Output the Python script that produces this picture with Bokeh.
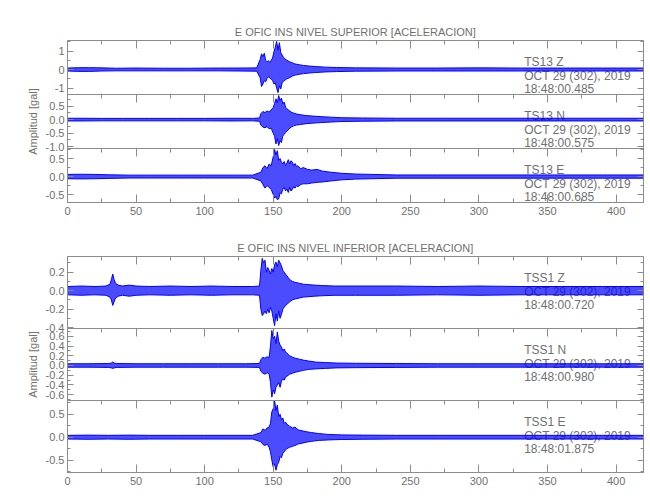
from bokeh.plotting import figure
from bokeh.models import Range1d, LinearAxis, FixedTicker, SingleIntervalTicker, Title, CustomJSTickFormatter
from bokeh.layouts import column
from bokeh.embed import file_html
from bokeh.resources import INLINE
from bokeh.core.properties import value

# ---------------- data ----------------
titles = ["E OFIC INS NIVEL SUPERIOR [ACELERACION]", "E OFIC INS NIVEL INFERIOR [ACELERACION]"]
y_label = "Amplitud [gal]"
stations = ["TS13   Z", "TS13   N", "TS13   E", "TSS1   Z", "TSS1   N", "TSS1   E"]
date_text = "OCT 29 (302), 2019"
start_times = ["18:48:00.485", "18:48:00.575", "18:48:00.685",
               "18:48:00.720", "18:48:00.980", "18:48:01.875"]

# envelope of each trace (seconds, upper gal, lower gal)
z1_t = [0, 8, 16, 25, 35, 50, 70, 90, 110, 125, 138,
        140.5, 141.5, 142.5, 143.5, 144.5, 145.5, 146.5, 147.5, 148.5, 149.5,
        150.5, 151.5, 152.5, 153.5, 154.5, 155.5, 156.5, 157.5, 158.5,
        160, 162, 164, 166, 169, 172, 176, 181, 188, 196, 210,
        240, 270, 300, 330, 360, 390, 420]
z1_up = [0.08, 0.10, 0.10, 0.09, 0.07, 0.08, 0.07, 0.07, 0.08, 0.08, 0.09,
         0.55, 0.85, 0.70, 0.88, 0.50, 0.42, 0.48, 0.38, 0.50, 0.62,
         0.95, 1.20, 1.52, 1.05, 1.45, 0.92, 0.78, 0.66, 0.58,
         0.50, 0.42, 0.36, 0.30, 0.26, 0.22, 0.19, 0.16, 0.13, 0.11, 0.09,
         0.08, 0.08, 0.09, 0.08, 0.08, 0.08, 0.08]
z1_lo = [-0.08, -0.10, -0.10, -0.08, -0.07, -0.07, -0.07, -0.07, -0.07, -0.08, -0.09,
         -0.45, -0.92, -0.78, -0.60, -0.66, -0.48, -0.40, -0.46, -0.52, -0.58,
         -0.78, -0.72, -1.00, -1.25, -0.88, -1.05, -0.72, -0.64, -0.58,
         -0.50, -0.44, -0.35, -0.30, -0.26, -0.22, -0.19, -0.16, -0.13, -0.11, -0.09,
         -0.08, -0.08, -0.08, -0.08, -0.08, -0.08, -0.08]

n1_t = [0, 10, 25, 40, 60, 80, 100, 120, 135, 140,
        141, 142.5, 144, 145.5, 147, 148.5,
        150, 151, 152, 153, 154, 155, 156, 157, 158, 159, 160,
        161.5, 163, 165, 167, 170, 174, 179, 185, 192, 200, 215,
        240, 270, 300, 330, 360, 390, 420]
n1_up = [0.05, 0.05, 0.045, 0.045, 0.045, 0.045, 0.045, 0.05, 0.045, 0.06,
         0.22, 0.30, 0.26, 0.32, 0.28, 0.36,
         0.45, 0.60, 0.77, 0.62, 0.89, 0.70, 0.80, 0.58, 0.65, 0.46, 0.40,
         0.34, 0.28, 0.24, 0.21, 0.18, 0.15, 0.13, 0.11, 0.09, 0.07, 0.06,
         0.05, 0.05, 0.05, 0.05, 0.05, 0.05, 0.05]
n1_lo = [-0.05, -0.05, -0.045, -0.045, -0.045, -0.045, -0.045, -0.05, -0.045, -0.06,
         -0.20, -0.28, -0.30, -0.26, -0.34, -0.32,
         -0.50, -0.62, -0.90, -0.70, -0.96, -0.78, -0.85, -0.60, -0.55, -0.48, -0.42,
         -0.35, -0.28, -0.23, -0.20, -0.18, -0.15, -0.13, -0.11, -0.09, -0.07, -0.06,
         -0.05, -0.05, -0.05, -0.05, -0.05, -0.05, -0.05]

e1_t = [0, 10, 20, 30, 45, 60, 80, 100, 120, 135,
        141, 142.5, 144, 145.5, 147, 148.5,
        150, 151, 152, 153, 154, 155, 156, 157, 158, 159, 160, 161, 162, 163, 164, 165, 166, 167, 168,
        170, 172, 175, 178, 182, 186, 190, 195, 200, 210,
        240, 270, 300, 330, 360, 390, 420]
e1_up = [0.06, 0.065, 0.06, 0.05, 0.04, 0.04, 0.04, 0.04, 0.04, 0.04,
         0.12, 0.25, 0.30, 0.22, 0.35, 0.30,
         0.55, 0.75, 0.60, 0.72, 0.45, 0.50, 0.40, 0.35, 0.42, 0.30, 0.38, 0.47, 0.35, 0.44, 0.40, 0.30, 0.36, 0.28, 0.30,
         0.22, 0.25, 0.20, 0.18, 0.20, 0.15, 0.13, 0.11, 0.09, 0.07,
         0.045, 0.045, 0.045, 0.045, 0.045, 0.045, 0.045]
e1_lo = [-0.06, -0.065, -0.06, -0.05, -0.04, -0.04, -0.04, -0.04, -0.04, -0.04,
         -0.12, -0.22, -0.32, -0.25, -0.30, -0.35,
         -0.50, -0.60, -0.55, -0.64, -0.62, -0.45, -0.48, -0.35, -0.30, -0.40, -0.35, -0.44, -0.30, -0.40, -0.35, -0.28, -0.32, -0.25, -0.28,
         -0.22, -0.20, -0.20, -0.18, -0.16, -0.15, -0.13, -0.11, -0.09, -0.07,
         -0.045, -0.045, -0.045, -0.045, -0.045, -0.045, -0.045]

z2_t = [0, 10, 20, 28, 31, 32, 33, 34, 35, 37, 40, 45, 50, 60, 75, 90, 105, 120, 135, 140,
        141, 142, 143, 144, 145, 146, 147, 148, 149, 150, 151, 152, 153, 154, 155, 156, 157, 158, 159, 160,
        162, 164, 166, 169, 172, 176, 180, 186, 195, 210,
        240, 270, 300, 330, 360, 390, 420]
z2_up = [0.045, 0.05, 0.045, 0.05, 0.07, 0.12, 0.18, 0.12, 0.08, 0.06, 0.05, 0.06, 0.05, 0.045, 0.05, 0.045, 0.05, 0.045, 0.045, 0.05,
         0.22, 0.35, 0.30, 0.33, 0.20, 0.25, 0.22, 0.18, 0.24, 0.20, 0.28, 0.31, 0.26, 0.33, 0.30, 0.27, 0.22, 0.20, 0.18, 0.16,
         0.12, 0.10, 0.09, 0.08, 0.07, 0.065, 0.06, 0.055, 0.05, 0.05,
         0.05, 0.045, 0.05, 0.045, 0.045, 0.045, 0.045]
z2_lo = [-0.045, -0.05, -0.045, -0.05, -0.07, -0.10, -0.16, -0.12, -0.08, -0.06, -0.05, -0.06, -0.05, -0.045, -0.05, -0.045, -0.05, -0.045, -0.045, -0.05,
         -0.20, -0.27, -0.25, -0.22, -0.25, -0.20, -0.24, -0.18, -0.22, -0.30, -0.38, -0.25, -0.33, -0.22, -0.30, -0.26, -0.20, -0.18, -0.16, -0.15,
         -0.12, -0.10, -0.09, -0.08, -0.07, -0.065, -0.06, -0.055, -0.05, -0.05,
         -0.05, -0.045, -0.05, -0.045, -0.045, -0.045, -0.045]

n2_t = [0, 15, 30, 32, 33, 34, 36, 50, 70, 90, 110, 130, 140,
        141, 142.5, 144, 145.5, 147,
        148, 149, 150, 151, 152, 153, 154, 155, 156, 157, 158, 159, 160,
        162, 164, 166, 169, 172, 176, 181, 188, 196, 210,
        240, 270, 300, 330, 360, 390, 420]
n2_up = [0.035, 0.035, 0.04, 0.05, 0.07, 0.05, 0.04, 0.035, 0.035, 0.035, 0.035, 0.035, 0.04,
         0.12, 0.17, 0.15, 0.18, 0.16,
         0.40, 0.72, 0.55, 0.60, 0.45, 0.69, 0.50, 0.42, 0.38, 0.30, 0.34, 0.28, 0.25,
         0.20, 0.17, 0.15, 0.13, 0.11, 0.09, 0.07, 0.06, 0.05, 0.045,
         0.04, 0.035, 0.035, 0.035, 0.035, 0.035, 0.035]
n2_lo = [-0.035, -0.035, -0.04, -0.05, -0.06, -0.05, -0.04, -0.035, -0.035, -0.035, -0.035, -0.035, -0.04,
         -0.12, -0.16, -0.18, -0.15, -0.17,
         -0.35, -0.65, -0.50, -0.58, -0.45, -0.40, -0.35, -0.45, -0.32, -0.28, -0.30, -0.25, -0.22,
         -0.18, -0.16, -0.14, -0.12, -0.10, -0.08, -0.07, -0.06, -0.05, -0.045,
         -0.04, -0.035, -0.035, -0.035, -0.035, -0.035, -0.035]

e2_t = [0, 15, 30, 45, 60, 80, 100, 120, 135,
        141, 142.5, 144, 145.5, 147,
        148, 149, 150, 151, 152, 153, 154, 155, 156, 157, 158, 159, 160,
        162, 164, 166, 168, 171, 174, 178, 183, 190, 200, 215,
        240, 270, 300, 330, 360, 390, 420]
e2_up = [0.04, 0.045, 0.04, 0.045, 0.04, 0.04, 0.04, 0.04, 0.04,
         0.10, 0.18, 0.15, 0.20, 0.22,
         0.30, 0.55, 0.62, 0.80, 0.58, 0.70, 0.45, 0.50, 0.38, 0.42, 0.30, 0.33, 0.28,
         0.24, 0.20, 0.22, 0.16, 0.14, 0.12, 0.10, 0.08, 0.06, 0.05, 0.045,
         0.04, 0.04, 0.04, 0.04, 0.04, 0.04, 0.04]
e2_lo = [-0.04, -0.045, -0.04, -0.045, -0.04, -0.04, -0.04, -0.04, -0.04,
         -0.10, -0.16, -0.18, -0.15, -0.22,
         -0.32, -0.50, -0.65, -0.58, -0.72, -0.60, -0.55, -0.42, -0.45, -0.35, -0.32, -0.28, -0.25,
         -0.22, -0.20, -0.18, -0.15, -0.13, -0.11, -0.09, -0.07, -0.06, -0.05, -0.045,
         -0.04, -0.04, -0.04, -0.04, -0.04, -0.04, -0.04]

traces = [(z1_t, z1_up, z1_lo), (n1_t, n1_up, n1_lo), (e1_t, e1_up, e1_lo),
          (z2_t, z2_up, z2_lo), (n2_t, n2_up, n2_lo), (e2_t, e2_up, e2_lo)]

# axis tick values
x_tick_interval = 50
y_major = [[-1, 0, 1],
           [-1.0, -0.5, 0.0, 0.5],
           [-0.5, 0.0, 0.5],
           [-0.4, -0.2, 0.0, 0.2],
           [-0.6, -0.4, -0.2, 0.0, 0.2, 0.4, 0.6],
           [-0.5, 0.0, 0.5]]
y_minor = [[-1.0, -0.5, 0.0, 0.5, 1.0, 1.5],
           [-1.0, -0.75, -0.5, -0.25, 0.0, 0.25, 0.5, 0.75],
           [-0.75, -0.5, -0.25, 0.0, 0.25, 0.5, 0.75],
           [-0.4, -0.3, -0.2, -0.1, 0.0, 0.1, 0.2, 0.3],
           [-0.7, -0.6, -0.5, -0.4, -0.3, -0.2, -0.1, 0.0, 0.1, 0.2, 0.3, 0.4, 0.5, 0.6, 0.7],
           [-0.75, -0.5, -0.25, 0.0, 0.25, 0.5, 0.75]]

# ---------------- layout / style ----------------
FONT = "Liberation Sans"
AX = "#8c8c8c"
TX = "#707070"
BLUE = "#0000ff"
X_END = 420
y_lims = [(-1.35, 1.57), (-1.07, 0.93), (-0.72, 0.78),
          (-0.41, 0.37), (-0.72, 0.76), (-0.77, 0.80)]
panel_h = [54, 72]          # frame height of one panel, per group
group_top = [40, 26]
group_bottom = [28, 23]
text_rel = [21, 35, 48]     # px below panel top
LEFT = 67
RIGHT = 5
W = LEFT + 576 + RIGHT


def style_axis(ax):
    ax.axis_line_color = AX
    ax.major_tick_line_color = AX
    ax.minor_tick_line_color = AX
    ax.major_label_text_color = TX
    ax.major_label_text_font = FONT
    ax.major_label_text_font_size = "11px"
    ax.major_tick_out = 0
    ax.minor_tick_out = 0


def hidden_labels(ax):
    ax.formatter = CustomJSTickFormatter(code="return '';")
    ax.major_label_standoff = 0


def fmt(v, ticks):
    if all(float(t).is_integer() for t in ticks):
        return "%d" % v
    return "%.1f" % v


figs = []
for g in range(2):
    ph = panel_h[g]
    # the group's frame is split in three panels; the default y range counts panels
    p = figure(width=W, height=group_top[g] + 3 * ph + group_bottom[g],
               x_range=Range1d(0, X_END), y_range=Range1d(0, 3),
               output_backend="svg", toolbar_location=None,
               x_axis_location=None, y_axis_location=None,
               min_border_left=LEFT, min_border_right=RIGHT,
               min_border_top=group_top[g], min_border_bottom=group_bottom[g])
    p.grid.visible = False
    p.outline_line_color = AX
    p.background_fill_color = "white"
    p.border_fill_color = "white"
    p.title = Title(text=titles[g], align="center", text_font=FONT,
                    text_font_size="11px", text_font_style="normal",
                    text_color=TX, standoff=6)

    left_major, left_minor, overrides = [], [], {}
    for k in range(3):
        i = 3 * g + k
        ylo, yhi = y_lims[i]
        span = yhi - ylo
        name = "p%d" % k
        base = 2 - k
        p.extra_y_ranges[name] = Range1d(ylo - base * span, yhi + k * span)

        for v in y_major[i]:
            pos = round(base + (v - ylo) / span, 6)
            left_major.append(pos)
            overrides[pos] = fmt(v, y_major[i])
        for v in y_minor[i]:
            left_minor.append(round(base + (v - ylo) / span, 6))

        right = LinearAxis(ticker=FixedTicker(ticks=y_major[i], minor_ticks=y_minor[i]),
                           y_range_name=name, fixed_location=X_END, bounds=(ylo, yhi))
        style_axis(right)
        hidden_labels(right)
        right.major_tick_in = 6
        right.minor_tick_in = 3
        p.add_layout(right, "right")

        top = LinearAxis(ticker=SingleIntervalTicker(interval=x_tick_interval, num_minor_ticks=2),
                         y_range_name=name, fixed_location=yhi)
        style_axis(top)
        hidden_labels(top)
        top.major_tick_in = 8
        top.minor_tick_in = 4
        p.add_layout(top, "above")

        # station annotation (drawn under the trace)
        ppu = ph / span
        ys = [yhi - r / ppu for r in text_rel]
        p.text(x=[333, 333, 333], y=ys, text=[stations[i], date_text, start_times[i]],
               text_font=value(FONT), text_font_size="12px", text_color=TX,
               text_baseline="middle", text_align="left", y_range_name=name)

        t, up, lo = traces[i]
        p.varea(x=t, y1=lo, y2=up, fill_color=BLUE, fill_alpha=0.7, y_range_name=name)
        p.line(t, up, line_color=BLUE, line_width=1, y_range_name=name)
        p.line(t, lo, line_color=BLUE, line_width=1, y_range_name=name)

    left = LinearAxis(ticker=FixedTicker(ticks=left_major, minor_ticks=left_minor),
                      major_label_overrides=overrides)
    style_axis(left)
    left.major_tick_in = 6
    left.minor_tick_in = 3
    left.major_label_standoff = 3
    left.axis_label = y_label
    left.axis_label_text_font = FONT
    left.axis_label_text_font_size = "11px"
    left.axis_label_text_font_style = "normal"
    left.axis_label_text_color = TX
    left.axis_label_standoff = 4
    p.add_layout(left, "left")

    bottom = LinearAxis(ticker=SingleIntervalTicker(interval=x_tick_interval, num_minor_ticks=2))
    style_axis(bottom)
    bottom.major_tick_in = 8
    bottom.minor_tick_in = 4
    bottom.major_label_standoff = 4
    p.add_layout(bottom, "below")
    figs.append(p)

layout = column(*figs, spacing=0)
open("out.html", "w").write(file_html(layout, INLINE))
